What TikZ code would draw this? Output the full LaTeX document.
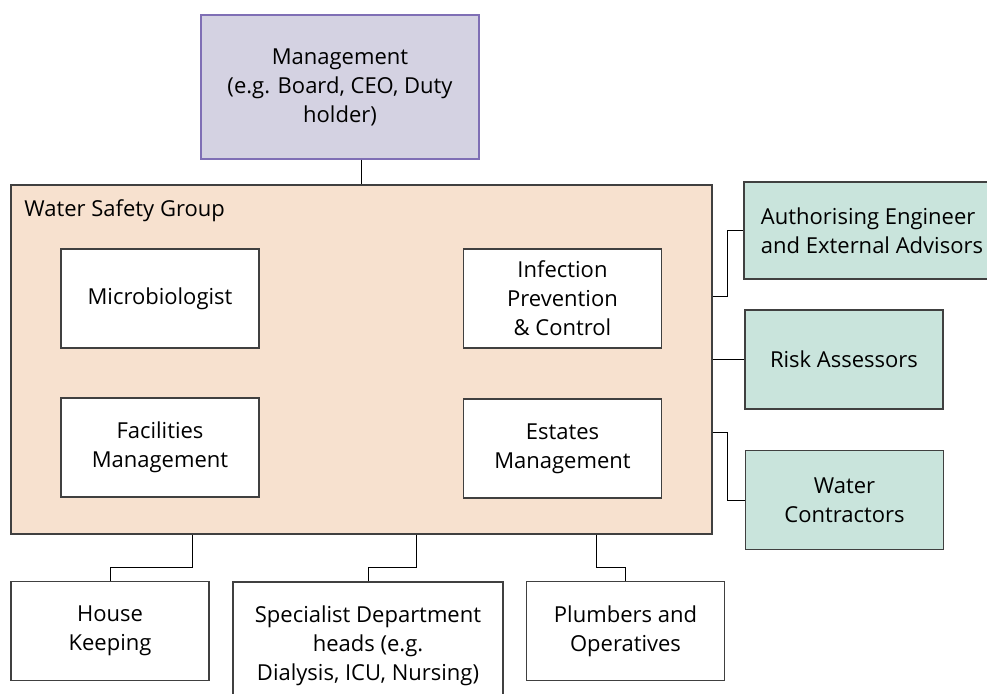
\documentclass[tikz,border=0pt]{standalone}
\usepackage{fontspec}
\setmainfont{Open Sans}
\definecolor{mgmtfill}{HTML}{D4D2E2}
\definecolor{mgmtline}{HTML}{7F6FB5}
\definecolor{wsgfill}{HTML}{F7E1CF}
\definecolor{advfill}{HTML}{C9E4DC}
\begin{document}
\begin{tikzpicture}
			[x=0.5pt,y=-0.5pt,
			every node/.style={font=\fontsize{11}{14.5}\selectfont,align=center,inner sep=0pt},
			box/.style={draw=black!75,line width=0.6pt,fill=white,minimum width=99pt,minimum height=49.5pt},
			advisor/.style={box,fill=advfill},
			link/.style={draw=black,line width=0.5pt}]
			\clip (0,0) rectangle (987,693);
			\node[box,draw=mgmtline,fill=mgmtfill,minimum width=139pt,minimum height=72pt] (mgmt) at (340,87)
				{Management\\(e.g. Board, CEO, Duty\\holder)};
			\node[box,fill=wsgfill,minimum width=350.5pt,minimum height=174.5pt] (wsg) at (361.5,359.5) {};
			\node[anchor=base west] (wsglabel) at (24,216) {Water Safety Group};
			\node[box] (micro) at (160,298.5) {Microbiologist};
			\node[box] (ipc) at (562.5,298.5) {Infection\\Prevention\\\& Control};
			\node[box] (facil) at (160,447.5) {Facilities\\Management};
			\node[box] (estates) at (562.5,448.5) {Estates\\Management};
			\node[advisor,minimum width=128pt,minimum height=48.5pt,align=left] (auth) at (872,230.5)
				{Authorising Engineer\\and External Advisors};
			\node[advisor] (risk) at (844,359.5) {Risk Assessors};
			\node[advisor] (water) at (844.5,500) {Water\\Contractors};
			\node[box] (house) at (110,631) {House\\Keeping};
			\node[box,minimum width=135pt,minimum height=64pt] (spec) at (368,646)
				{Specialist Department\\heads (e.g.\\Dialysis, ICU, Nursing)};
			\node[box] (plumb) at (625.5,631) {Plumbers and\\Operatives};
			% connectors
			\draw[link] ([xshift=10.5pt]mgmt.south) -- ([xshift=10.5pt]mgmt.south |- wsg.north);
			\draw[link] ([yshift=31.75pt]wsg.east) -- ++(7.5pt,0) |- (auth.west);
			\draw[link] (wsg.east) -- (risk.west);
			\draw[link] ([yshift=-36.25pt]wsg.east) -- ++(7.5pt,0) |- (water.west);
			\draw[link] ([xshift=-84.75pt]wsg.south) -- ++(0,-16.5pt) -| (house.north);
			\draw[link] ([xshift=27.25pt]wsg.south) -- ++(0,-16.5pt) -| (spec.north);
			\draw[link] ([xshift=117.25pt]wsg.south) -- ++(0,-16.5pt) -| (plumb.north);
		\end{tikzpicture}
\end{document}
